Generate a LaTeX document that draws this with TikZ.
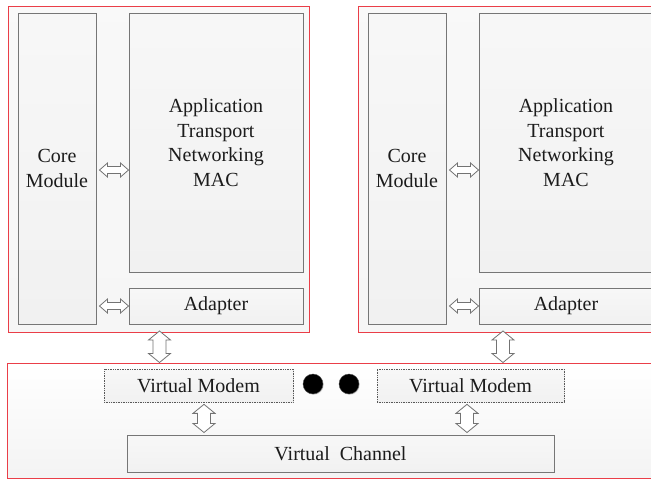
\documentclass[tikz,border=0pt]{standalone}
\usepackage{fontspec}
\setmainfont{Liberation Serif}
\usetikzlibrary{calc,shadows}

\definecolor{panelred}{RGB}{234,62,72}
\definecolor{boxline}{RGB}{118,118,118}
\definecolor{inkgray}{RGB}{28,28,28}

\tikzset{
  panel/.style={draw=panelred, line width=1pt, shading=axis,
    top color=gray!5, middle color=white, bottom color=gray!7},
  basepanel/.style={draw=panelred, line width=1pt, shading=axis,
    top color=white, bottom color=gray!9},
  module/.style={draw=boxline, line width=1pt, shading=axis,
    top color=gray!6, middle color=white, bottom color=gray!11,
    drop shadow={shadow xshift=1pt, shadow yshift=-1pt, opacity=0.2, fill=gray},
    text=inkgray, align=center, inner sep=0pt,
    font=\fontsize{20}{24.5}\selectfont},
  modem/.style={module, draw=gray!70!black, line width=0.7pt, densely dotted},
  blockarrow/.style={draw=gray!90!black, line width=0.8pt, fill=white},
  dot/.style={circle, fill=black, draw=gray!60!black, minimum size=20pt, inner sep=0pt,
    drop shadow={shadow xshift=0.8pt, shadow yshift=-0.8pt, opacity=0.3, fill=gray}}
}

% hollow double-headed block arrows: horizontal (left to right) and vertical (top to bottom)
\newcommand\hblock[2]{%
  \path[blockarrow] let \p1=(#1), \p2=(#2) in
    (\x1,\y1) -- (\x1+8pt,\y1+7pt) -- (\x1+8pt,\y1+3.5pt) -- (\x2-8pt,\y1+3.5pt)
    -- (\x2-8pt,\y1+7pt) -- (\x2,\y1) -- (\x2-8pt,\y1-7pt) -- (\x2-8pt,\y1-3.5pt)
    -- (\x1+8pt,\y1-3.5pt) -- (\x1+8pt,\y1-7pt) -- cycle;}
\newcommand\vblock[2]{%
  \path[blockarrow] let \p1=(#1), \p2=(#2) in
    (\x1,\y1) -- (\x1+11pt,\y1-9pt) -- (\x1+6.5pt,\y1-9pt) -- (\x1+6.5pt,\y2+9pt)
    -- (\x1+11pt,\y2+9pt) -- (\x1,\y2) -- (\x1-11pt,\y2+9pt) -- (\x1-6.5pt,\y2+9pt)
    -- (\x1-6.5pt,\y1-9pt) -- (\x1-11pt,\y1-9pt) -- cycle;}

\begin{document}
\begin{tikzpicture}[x=1pt, y=-1pt]
\clip (0,0) rectangle (651,479);
\fill[white] (0,0) rectangle (651,479);

% two device panels
\foreach \s/\side in {0/L, 350/R}{
  \begin{scope}[xshift=\s]
    \node[panel, minimum width=301pt, minimum height=326pt] (panel\side) at (158.5,169) {};
    \node[module, minimum width=78pt, minimum height=311pt] (core\side) at (57,168.5) {Core\\Module};
    \node[module, minimum width=174pt, minimum height=259pt] (app\side) at (216,142.5)
      {Application\\Transport\\Networking\\MAC};
    \node[module, minimum width=174pt, minimum height=36pt] (adapt\side) at (216,306)
      {\raisebox{-2pt}{Adapter}};
  \end{scope}
}

% shared virtual layer
\node[basepanel, minimum width=653pt, minimum height=115pt] (base) at (333.5,420.5) {};
\node[modem, minimum width=189pt, minimum height=33pt] (vmL) at (198.5,385.5) {Virtual Modem};
\node[modem, minimum width=187pt, minimum height=33pt] (vmR) at (470.5,385.5) {Virtual Modem};
\node[dot] (dot1) at (313,384) {};
\node[dot] (dot2) at (349,384) {};
\node[module, minimum width=427pt, minimum height=37pt] (vc) at (340.5,453.5) {Virtual~~Channel};

% links inside each panel
\coordinate (caL) at ($(coreL.east)+(3,1.5)$);
\coordinate (acL) at (appL.west |- caL);
\hblock{caL}{acL}
\coordinate (cdL) at ($(coreL.east |- adaptL.west)+(3,0)$);
\hblock{cdL}{adaptL.west}
\coordinate (caR) at ($(coreR.east)+(3,1.5)$);
\coordinate (acR) at (appR.west |- caR);
\hblock{caR}{acR}
\coordinate (cdR) at ($(coreR.east |- adaptR.west)+(3,0)$);
\hblock{cdR}{adaptR.west}

% links from panels down to the virtual layer
\coordinate (pL) at (159.5,331);
\coordinate (bL) at (pL |- base.north);
\vblock{pL}{bL}
\coordinate (pR) at (503,331);
\coordinate (bR) at (pR |- base.north);
\vblock{pR}{bR}

% links from modems to the channel
\coordinate (mL) at ($(vmL.south -| 204,0)+(0,2)$);
\coordinate (cL) at ($(mL |- vc.north)+(0,-2)$);
\vblock{mL}{cL}
\coordinate (mR) at ($(vmR.south -| 467,0)+(0,2)$);
\coordinate (cR) at ($(mR |- vc.north)+(0,-2)$);
\vblock{mR}{cR}
\end{tikzpicture}
\end{document}
